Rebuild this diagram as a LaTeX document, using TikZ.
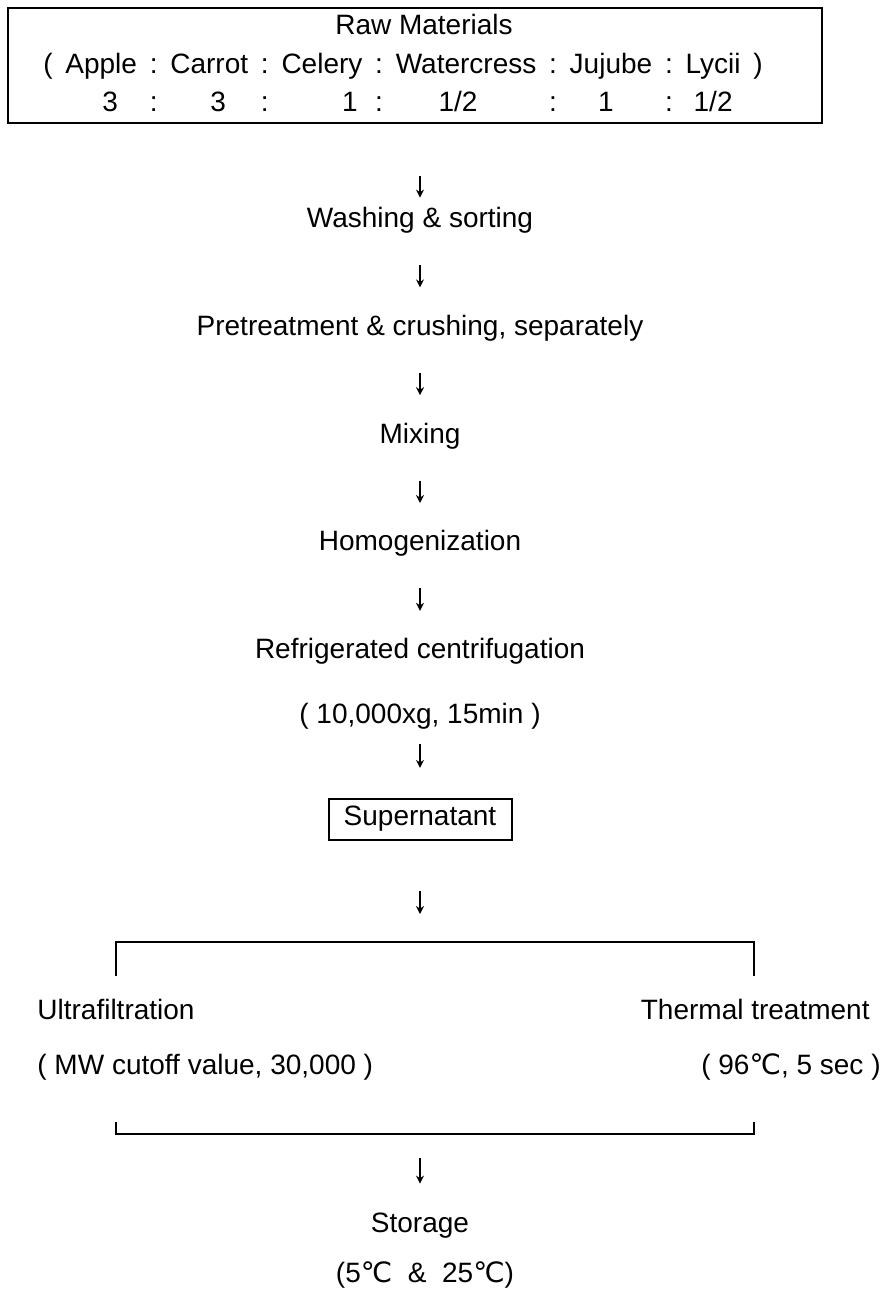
\documentclass[tikz,border=0pt]{standalone}
\usepackage{fontspec}
\setmainfont{Liberation Sans}
\newfontfamily\degfont{DejaVu Sans}
\newcommand{\degc}{{\degfont ℃}}
\usetikzlibrary{arrows.meta,positioning}

\begin{document}
\begin{tikzpicture}[
    x=0.5pt, y=-0.5pt,
    >={Stealth[length=4pt, width=4pt]},
    node distance=40pt,
    stepnode/.style={font=\fontsize{14}{20}\selectfont, text height=10pt,
                     text depth=3.5pt, inner sep=0pt},
    rawbox/.style={draw, line width=1pt, inner sep=0pt, minimum width=407pt,
                   minimum height=57.5pt, font=\fontsize{14}{20}\selectfont},
    superbox/.style={stepnode, draw, line width=1pt, minimum width=91.5pt,
                     minimum height=20.5pt},
    flow/.style={->, line width=0.8pt, shorten <=15pt, shorten >=13.75pt},
    bracket/.style={line width=0.7pt}
]
    \useasboundingbox (0,0) rectangle (886,1290);

    % Raw materials and their ratio
    \node[rawbox] (raw) at (415,65.5) {\renewcommand{\arraystretch}{0.96}%
        \setlength{\tabcolsep}{3.2pt}%
        \begin{tabular}{*{13}{c}}
            \multicolumn{13}{c}{\hspace{21pt}Raw Materials}\\
            ( & Apple & : & Carrot & : & Celery & : & Watercress & : & Jujube & : & Lycii & )\\
              & \hspace{9pt}3 & : & \hspace{9pt}3 & : & \hspace{28pt}1 & : & 1/2\hspace{8pt} & : & 1\hspace{5pt} & : & 1/2 &
        \end{tabular}\hspace{12pt}\mbox{}};

    % Main process line
    \node[stepnode] (wash) at (420,221) {Washing \& sorting};
    \node[stepnode, below=of wash] (pretreat) {Pretreatment \& crushing, separately};
    \node[stepnode, below=of pretreat] (mixing) {Mixing};
    \node[stepnode, below=of mixing] (homog) {Homogenization};
    \node[stepnode, below=of homog] (centrif) {Refrigerated centrifugation};
    \node[stepnode, below=18.5pt of centrif] (centcond) {( 10,000xg, 15min )};
    \node[superbox, below=33.5pt of centcond] (super) {Supernatant};

    % Two treatments
    \coordinate (split) at (420,942);
    \coordinate (join) at (420,1134);
    \node[stepnode, anchor=west] (ultra) at (37,1013) {Ultrafiltration};
    \node[stepnode, anchor=west] (ufcond) at (37,1068) {( MW cutoff value, 30,000 )};
    \node[stepnode, anchor=east] (thermal) at (870,1013) {Thermal treatment};
    \node[stepnode, anchor=east] (thcond) at (881,1068) {( 96\degc, 5 sec )};
    \node[stepnode] (storage) at (420,1226) {Storage};
    \node[stepnode] (stcond) at (425,1276) {(5\degc\ \ \& \ 25\degc)};

    \draw[bracket] (116,976) |- (754,942) -- (754,976);
    \draw[bracket] (116,1122) |- (754,1134) -- (754,1122);

    % Arrows
    \draw[flow, shorten <=26pt, shorten >=4.75pt] (raw.south -| wash) -- (wash);
    \draw[flow] (wash) -- (pretreat);
    \draw[flow] (pretreat) -- (mixing);
    \draw[flow] (mixing) -- (homog);
    \draw[flow] (homog) -- (centrif);
    \draw[flow, shorten <=6.5pt, shorten >=15pt] (centcond) -- (super);
    \draw[flow, shorten <=25pt, shorten >=14pt] (super) -- (split);
    \draw[flow, shorten <=12pt, shorten >=14.25pt] (join) -- (storage);
\end{tikzpicture}
\end{document}
